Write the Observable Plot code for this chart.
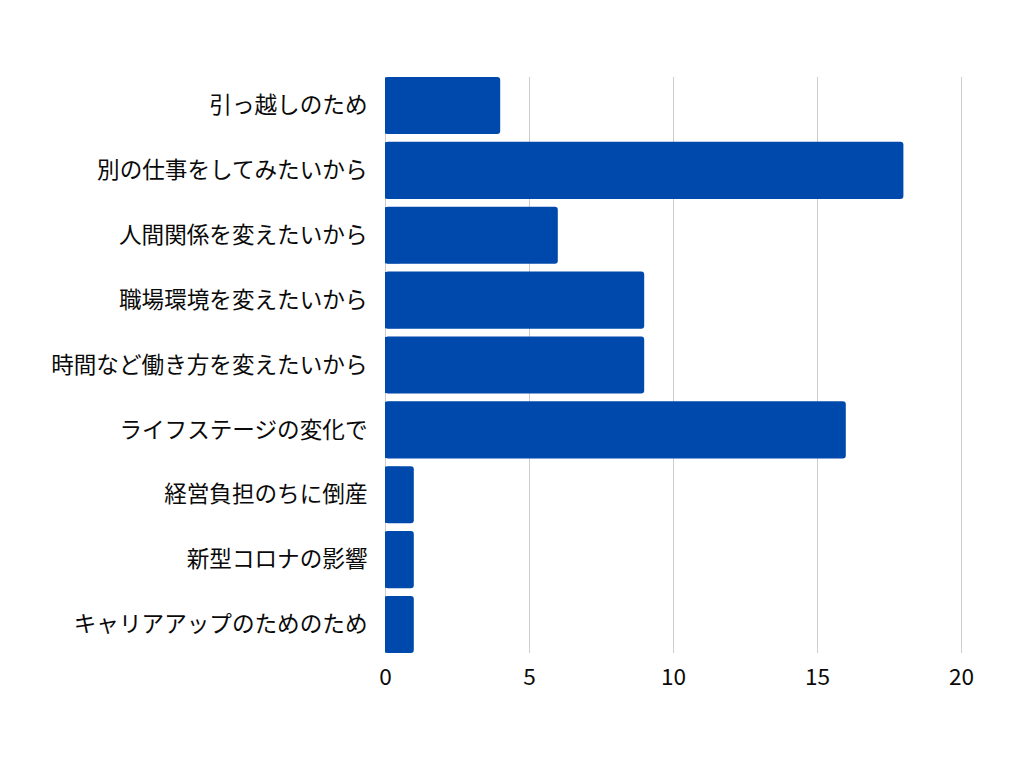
<!DOCTYPE html>
<html>
<head>
<meta charset="utf-8">
<script src="https://cdn.jsdelivr.net/npm/d3@7"></script>
<script src="https://cdn.jsdelivr.net/npm/@observablehq/plot@0.6"></script>
<style>
  html, body { margin: 0; padding: 0; background: #fff; }
  svg { display: block; }
</style>
</head>
<body>
<div id="chart"></div>
<script>
const categories = [
  "引っ越しのため",
  "別の仕事をしてみたいから",
  "人間関係を変えたいから",
  "職場環境を変えたいから",
  "時間など働き方を変えたいから",
  "ライフステージの変化で",
  "経営負担のちに倒産",
  "新型コロナの影響",
  "キャリアアップのためのため"
];
const values = [4, 18, 6, 9, 9, 16, 1, 1, 1];
const xTicks = [0, 5, 10, 15, 20];

const data = categories.map((c, i) => ({category: c, value: values[i]}));
const barColor = "#0049AC";

const chart = Plot.plot({
  width: 1024,
  height: 768,
  marginLeft: 385,
  marginRight: 63,
  marginTop: 77,
  marginBottom: 115,
  style: {fontFamily: "'Noto Sans CJK JP', 'Noto Sans', sans-serif", background: "#fff", color: "#111"},
  x: {domain: [0, 20], ticks: xTicks, grid: false, label: null},
  y: {domain: categories, paddingInner: 0.12, paddingOuter: 0, round: false, label: null},
  marks: [
    Plot.ruleX(xTicks, {stroke: "#cccccc", strokeWidth: 1, strokeOpacity: 1}),
    Plot.barX(data, {y: "category", x: "value", fill: barColor, rx: 3}),
    Plot.barX(data, {y: "category", x1: 0, x2: d => Math.min(d.value, 0.5), fill: barColor, insetTop: 0.5, insetBottom: 0.5}),
    Plot.axisX({ticks: xTicks, tickSize: 0, tickPadding: 15, fontSize: 22.6, label: null, fill: "#0a0a0a"}),
    Plot.axisY({tickSize: 0, tickPadding: 18, fontSize: 22.6, label: null, fill: "#0a0a0a"})
  ]
});
document.getElementById("chart").appendChild(chart);
</script>
</body>
</html>
